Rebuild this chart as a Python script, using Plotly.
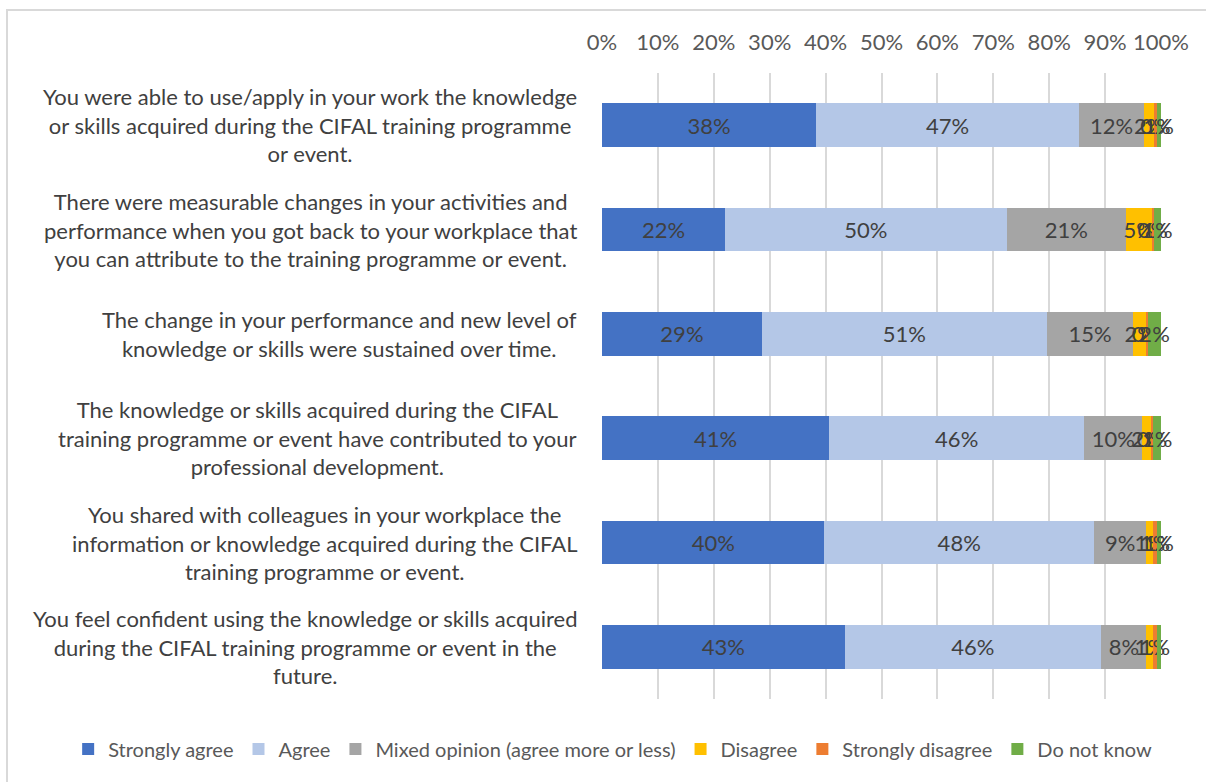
import plotly.graph_objects as go

statements = [
    "You were able to use/apply in your work the knowledge<br>or skills acquired during the CIFAL training programme<br>or event.",
    "There were measurable changes in your activities and<br>performance when you got back to your workplace that<br>you can attribute to the training programme or event.",
    "The change in your performance and new level of<br>knowledge or skills were sustained over time.",
    "The knowledge or skills acquired during the CIFAL<br>training programme or event have contributed to your<br>professional development.",
    "You shared with colleagues in your workplace the<br>information or knowledge acquired during the CIFAL<br>training programme or event.",
    "You feel confident using the knowledge or skills acquired<br>during the CIFAL training programme or event in the<br>future.",
]
keys = ["q1", "q2", "q3", "q4", "q5", "q6"]

# share of respondents (%) per answer, one value per statement
strongly_agree = [38.3, 22.0, 28.6, 40.6, 39.8, 43.4]
agree = [47.0, 50.4, 51.0, 45.7, 48.2, 45.9]
mixed = [11.7, 21.3, 15.4, 10.3, 9.4, 8.1]
disagree = [1.8, 4.6, 2.4, 1.6, 1.2, 1.2]
strongly_disagree = [0.4, 0.4, 0.3, 0.4, 0.6, 0.6]
do_not_know = [0.8, 1.3, 2.3, 1.4, 0.8, 0.8]

series = [
    ("Strongly agree", strongly_agree, "#4472C4"),
    ("Agree", agree, "#B4C7E7"),
    ("Mixed opinion (agree more or less)", mixed, "#A5A5A5"),
    ("Disagree", disagree, "#FFC000"),
    ("Strongly disagree", strongly_disagree, "#ED7D31"),
    ("Do not know", do_not_know, "#70AD47"),
]

FONT = "Lato"
TXT = "#404040"
FS = 22

fig = go.Figure()
for name, vals, color in series:
    fig.add_trace(go.Bar(
        y=keys, x=vals, name=name, orientation="h",
        marker=dict(color=color, line=dict(width=0)),
        text=[f"{v:.0f}%" for v in vals],
        textposition="inside", insidetextanchor="middle", textangle=0,
        textfont=dict(family=FONT, size=FS, color=TXT),
        cliponaxis=False,
        hoverinfo="x+name",
    ))

for k, s in zip(keys, statements):
    fig.add_annotation(
        x=-0.041, y=k, xref="paper", yref="y", text=s, showarrow=False,
        xanchor="right", yanchor="middle", align="center",
        font=dict(family=FONT, size=FS, color=TXT),
    )

# outer chart frame
fig.add_shape(type="rect", xref="paper", yref="paper",
              x0=-1.0644, x1=1.3, y0=-0.3, y1=1.1006,
              line=dict(color="#D9D9D9", width=2), layer="below")

fig.update_layout(
    barmode="stack",
    barnorm="percent",
    bargap=0.58,
    width=1206, height=782,
    margin=dict(l=602, r=45, t=73, b=83, autoexpand=False),
    paper_bgcolor="white", plot_bgcolor="white",
    uniformtext=dict(minsize=FS, mode="show"),
    showlegend=True,
    legend=dict(orientation="h", x=-0.955, xanchor="left", y=-0.08, yanchor="middle",
                font=dict(family=FONT, size=20, color="#595959"),
                traceorder="normal", itemwidth=30, bgcolor="rgba(0,0,0,0)"),
    xaxis=dict(range=[0, 100], side="top", dtick=10, ticksuffix="%",
               showgrid=True, gridcolor="#D9D9D9", gridwidth=1.5, zeroline=False,
               showline=False, ticks="", ticklabelstandoff=18,
               tickfont=dict(family=FONT, size=FS, color="#595959"), fixedrange=True),
    yaxis=dict(categoryorder="array", categoryarray=keys, autorange="reversed",
               showticklabels=False, showgrid=False, zeroline=False, showline=False,
               ticks=""),
)

fig.write_html("out.html")
